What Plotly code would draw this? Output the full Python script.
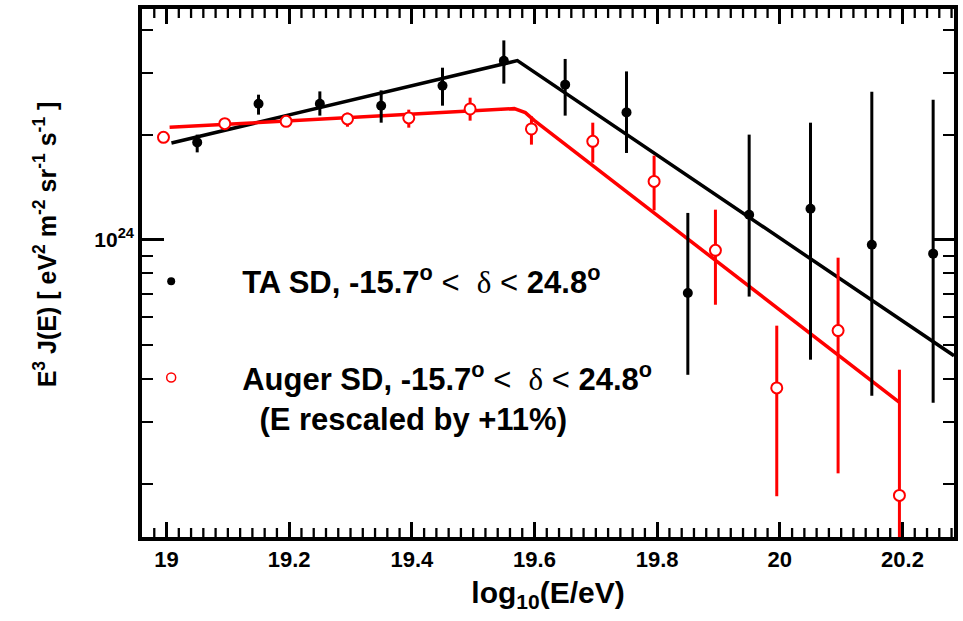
import plotly.graph_objects as go

# ---------------- data ----------------
ta_x = [19.05, 19.15, 19.25, 19.35, 19.45, 19.55, 19.65, 19.75, 19.85, 19.95, 20.05, 20.15, 20.25]
ta_y = [1.900e24, 2.453e24, 2.453e24, 2.421e24, 2.762e24, 3.258e24, 2.781e24, 2.316e24,
        7.03e23, 1.179e24, 1.227e24, 9.67e23, 9.12e23]
ta_hi = [2.000e24, 2.603e24, 2.660e24, 2.678e24, 3.110e24, 3.724e24, 3.295e24, 3.035e24,
         1.193e24, 2.000e24, 2.164e24, 2.655e24, 2.518e24]
ta_lo = [1.779e24, 2.282e24, 2.267e24, 2.164e24, 2.421e24, 2.800e24, 2.267e24, 1.772e24,
         4.10e23, 6.87e23, 4.53e23, 3.57e23, 3.41e23]

auger_x = [18.995, 19.095, 19.195, 19.295, 19.395, 19.495, 19.595, 19.695, 19.795,
           19.895, 19.995, 20.095, 20.195]
auger_y = [1.964e24, 2.150e24, 2.183e24, 2.218e24, 2.233e24, 2.369e24, 2.076e24, 1.913e24,
           1.469e24, 9.32e23, 3.76e23, 5.49e23, 1.85e23]
auger_hi = [1.964e24, 2.207e24, 2.256e24, 2.312e24, 2.358e24, 2.552e24, 2.256e24, 2.164e24,
            1.741e24, 1.219e24, 5.67e23, 8.88e23, 4.24e23]
auger_lo = [1.964e24, 2.094e24, 2.103e24, 2.107e24, 2.094e24, 2.193e24, 1.872e24, 1.662e24,
            1.213e24, 6.51e23, 1.84e23, 2.14e23, 1.0e23]

ta_fit_x = [19.008, 19.572, 20.284]
ta_fit_y = [1.893e24, 3.258e24, 4.65e23]
auger_fit_x = [19.005, 19.567, 19.585, 19.600, 20.195]
auger_fit_y = [2.098e24, 2.374e24, 2.312e24, 2.193e24, 3.42e23]

x_ticks = [19, 19.2, 19.4, 19.6, 19.8, 20, 20.2]
x_ticktext = ["19", "19.2", "19.4", "19.6", "19.8", "20", "20.2"]
x_minor = [round(18.96 + 0.02 * i, 2) for i in range(67)]
y_ticks = [1e24]
y_ticktext = ["10<sup>24</sup>"]
y_minor = [2e23, 3e23, 4e23, 5e23, 6e23, 7e23, 8e23, 9e23, 2e24, 3e24, 4e24]

NORMAL = "<span style=\"font-weight:normal\">&lt;</span>"
DELTA = "<span style=\"font-family:'Liberation Serif';font-weight:normal\">&#948;</span>"
ta_label = "TA SD, -15.7<sup>o</sup> " + NORMAL + "  " + DELTA + " " + NORMAL + " 24.8<sup>o</sup>"
auger_label = ("Auger SD, -15.7<sup>o</sup> " + NORMAL + "  " + DELTA + " " + NORMAL + " 24.8<sup>o</sup>"
               "<br>  (E rescaled by +11%)")
y_title = "E<sup>3</sup> J(E) [ eV<sup>2</sup> m<sup>-2</sup> sr<sup>-1</sup> s<sup>-1</sup> ]"

FONT = "Liberation Sans, Arial, Helvetica, sans-serif"
RED = "#ff0000"
XRANGE = [18.96, 20.284]
MINOR_LEN = 9 / 528  # minor x tick length as a fraction of the plot height

fig = go.Figure()

fig.add_trace(go.Scatter(x=ta_fit_x, y=ta_fit_y, mode="lines",
                         line=dict(color="black", width=3.5), showlegend=False, hoverinfo="skip"))
fig.add_trace(go.Scatter(x=auger_fit_x, y=auger_fit_y, mode="lines",
                         line=dict(color=RED, width=3.5), showlegend=False, hoverinfo="skip"))

fig.add_trace(go.Scatter(
    x=ta_x, y=ta_y, mode="markers", showlegend=False,
    marker=dict(color="black", size=10, symbol="circle"),
    error_y=dict(type="data", symmetric=False,
                 array=[h - v for h, v in zip(ta_hi, ta_y)],
                 arrayminus=[v - l for v, l in zip(ta_y, ta_lo)],
                 color="black", thickness=3, width=0)))
fig.add_trace(go.Scatter(
    x=auger_x, y=auger_y, mode="markers", showlegend=False,
    marker=dict(color="white", size=11, symbol="circle", line=dict(color=RED, width=2)),
    error_y=dict(type="data", symmetric=False,
                 array=[h - v for h, v in zip(auger_hi, auger_y)],
                 arrayminus=[v - l for v, l in zip(auger_y, auger_lo)],
                 color=RED, thickness=3, width=0)))

# legend entries
fig.add_trace(go.Scatter(x=[None], y=[None], mode="markers", name=ta_label, legendgroup="a",
                         marker=dict(color="black", size=8, symbol="circle")))
fig.add_trace(go.Scatter(x=[None], y=[None], mode="markers", name=auger_label, legendgroup="b",
                         marker=dict(color="white", size=9, symbol="circle",
                                     line=dict(color=RED, width=1.5))))

# minor x ticks (bottom and top frame), drawn as short shapes
minor_shapes = []
for xv in x_minor:
    if XRANGE[0] < xv < XRANGE[1] and all(abs(xv - m) > 1e-6 for m in x_ticks):
        for y0, y1 in ((0, MINOR_LEN), (1, 1 - MINOR_LEN)):
            minor_shapes.append(dict(type="line", xref="x", yref="paper", x0=xv, x1=xv,
                                     y0=y0, y1=y1, line=dict(color="black", width=2.3)))

fig.update_layout(
    width=963, height=621,
    margin=dict(l=142, r=5, t=9, b=84),
    paper_bgcolor="white", plot_bgcolor="white",
    font=dict(family=FONT, color="black"),
    showlegend=True,
    legend=dict(x=-0.0515, y=0.535, xanchor="left", yanchor="top",
                bgcolor="rgba(0,0,0,0)", borderwidth=0,
                font=dict(size=31, family=FONT, weight="bold", color="black"),
                tracegroupgap=53, valign="top", itemwidth=132),
    xaxis=dict(
        range=XRANGE, showgrid=False, zeroline=False,
        showline=True, linecolor="black", linewidth=3.5, mirror="ticks",
        ticks="inside", ticklen=15, tickwidth=2.7, tickcolor="black",
        tickmode="array", tickvals=x_ticks, ticktext=x_ticktext,
        tickfont=dict(size=22, family=FONT, weight="bold"),
        title=dict(text="log<sub>10</sub>(E/eV)", font=dict(size=30, family=FONT, weight="bold"),
                   standoff=12),
    ),
    yaxis=dict(
        type="log", range=[23.148, 24.661], showgrid=False, zeroline=False,
        showline=True, linecolor="black", linewidth=3.5, mirror="ticks",
        ticks="inside", ticklen=22, tickwidth=2.7, tickcolor="black",
        tickmode="array", tickvals=y_ticks, ticktext=y_ticktext,
        tickfont=dict(size=21, family=FONT, weight="bold"),
        minor=dict(tickmode="array", tickvals=y_minor, ticks="inside", ticklen=11,
                   tickwidth=2.3, tickcolor="black"),
    ),
    shapes=minor_shapes,
    annotations=[dict(text=y_title, xref="paper", yref="paper", x=-0.119, y=0.555,
                      xanchor="center", yanchor="middle", textangle=-90, showarrow=False,
                      font=dict(size=25, family=FONT, weight="bold", color="black"))],
)

fig.write_html("out.html")
